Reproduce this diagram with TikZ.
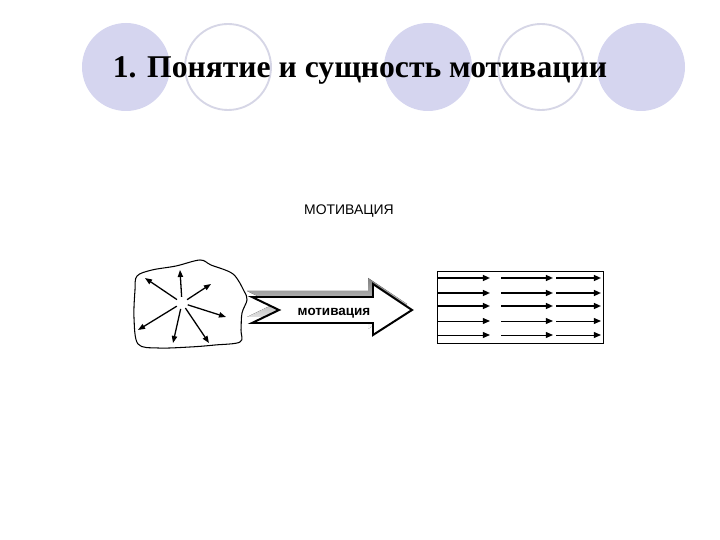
\documentclass[tikz,border=0pt]{standalone}
\usepackage{fontspec}
\setmainfont{Liberation Serif}
\newfontfamily\arialfont{Liberation Sans}
\usetikzlibrary{positioning,arrows.meta}
\definecolor{lavender}{HTML}{D5D5EF}
\definecolor{ringline}{HTML}{D6D6E6}
\definecolor{shade}{HTML}{8E8E8E}
\tikzset{
  disc/.style={fill=lavender},
  ring/.style={draw=ringline,line width=1.6pt,fill=white},
  ray/.style={-{Triangle[length=6pt,width=4.5pt]},line width=1.1pt},
  flow/.style={-{Triangle[length=6pt,width=5pt]},line width=1.4pt},
  flowthin/.style={-{Triangle[length=6pt,width=5pt]},line width=0.8pt},
  bigarrow/.style={draw=black,line width=1.7pt,fill=white,line join=miter},
  lbl/.style={font=\arialfont\fontsize{11.9}{13}\selectfont,inner sep=0pt},
}

\begin{document}
\begin{tikzpicture}[x=0.03cm,y=-0.03cm]
  \useasboundingbox (0,0) rectangle (720,540);
  % heading circles
  \foreach \cx in {126,428,641} \fill[disc] (\cx,67) circle (44);
  \foreach \cx in {228,541} \draw[ring] (\cx,67) circle (43);
  \node[anchor=base,inner sep=0pt] (title) at (360,78)
    {\fontsize{27}{30}\selectfont\bfseries 1. Понятие и сущность мотивации};
  \node[lbl,anchor=base] (head) at (349,215) {МОТИВАЦИЯ};

  % blob with rays
  \draw[line width=0.9pt] plot[smooth cycle,tension=0.55] coordinates {
    (137,276) (152,270) (176,266) (200,260) (211,265) (233,274) (244,291)
    (247,300) (242,313) (241,330) (240,342) (215,345) (190,347) (158,348)
    (138,344) (134,318) (135,290)};
  \node[circle,inner sep=0pt,minimum size=0.35cm] (src) at (182,303) {};
  \coordinate (e1) at (180,270);
  \coordinate (e2) at (211,284);
  \coordinate (e3) at (226,317);
  \coordinate (e4) at (209,343);
  \coordinate (e5) at (173,343);
  \coordinate (e6) at (138,330);
  \coordinate (e7) at (145,278);
  \foreach \e in {e1,e2,e3,e4,e5,e6,e7} \draw[ray] (src)--(\e);

  % big arrow
  \fill[shade] (247,291) -- (368,291) -- (368,278) -- (407,304) -- (368,329)
    -- (368,317) -- (247,317) -- (274,304) -- cycle;
  \draw[bigarrow] (252,297) -- (373,297) -- (373,284) -- (412,310) -- (373,335)
    -- (373,323) -- (252,323) -- (279,310) -- cycle;
  \node[lbl,font=\arialfont\bfseries\fontsize{11.5}{13}\selectfont,anchor=base]
    (mot) at (334,316) {мотивация};

  % box of parallel flows
  \draw[line width=0.8pt] (437,271) rectangle (603,343);
  \foreach \i/\y/\st in {1/278/flow,2/293/flow,3/306/flow,4/321/flowthin,5/335/flowthin}{
    \coordinate (a\i) at (437,\y);
    \coordinate (b\i) at (490,\y);
    \coordinate (c\i) at (501,\y);
    \coordinate (d\i) at (553,\y);
    \coordinate (f\i) at (556,\y);
    \coordinate (g\i) at (601,\y);
    \draw[\st] (a\i)--(b\i);
    \draw[\st] (c\i)--(d\i);
    \draw[\st] (f\i)--(g\i);
  }
\end{tikzpicture}
\end{document}
